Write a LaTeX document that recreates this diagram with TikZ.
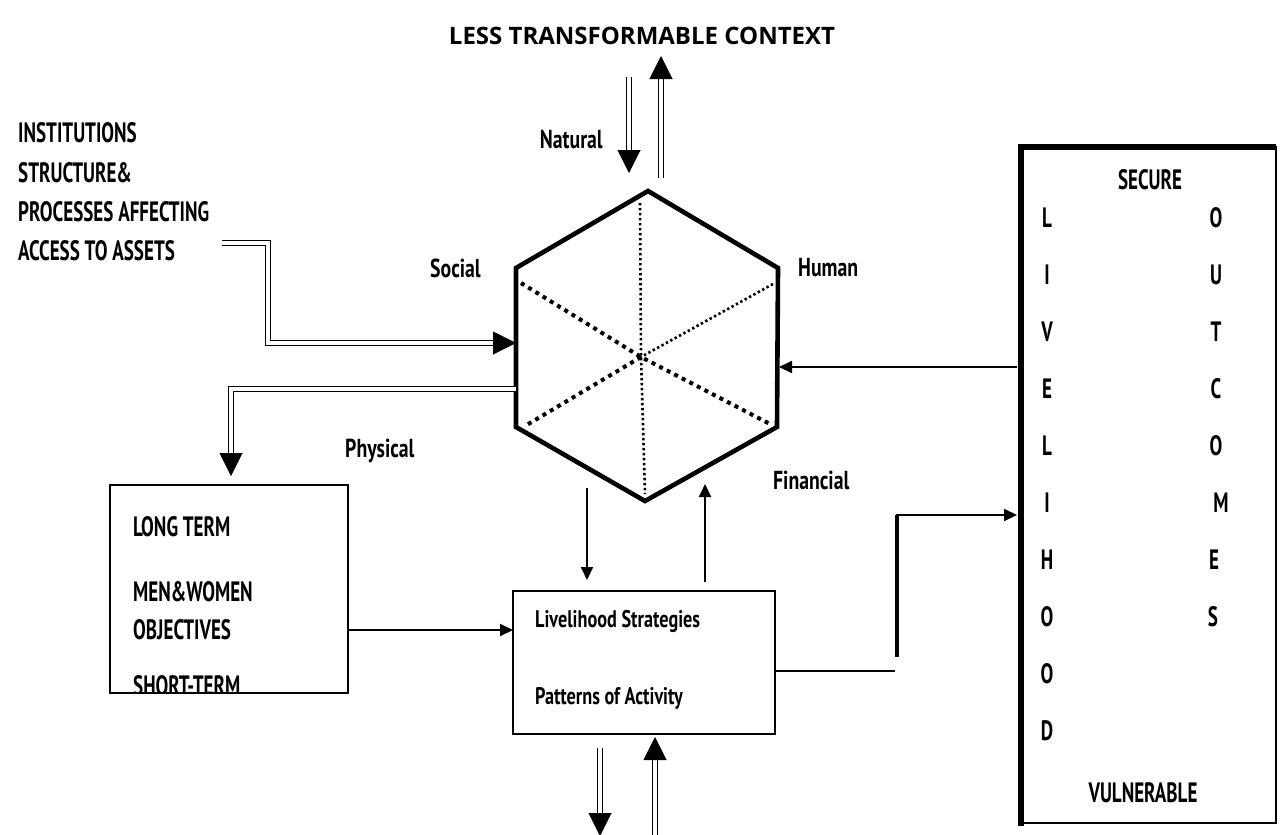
\documentclass[tikz,border=0pt]{standalone}
\usepackage{fontspec}
\usetikzlibrary{arrows.meta,calc}
\newfontfamily\titlefont{Open Sans}
\newfontfamily\condfont[FakeStretch=0.68]{PT Sans Bold}
\newfontfamily\condlower[FakeStretch=0.76]{PT Sans Bold}

\begin{document}
\begin{tikzpicture}[x=1pt,y=-1pt,
  lbl/.style={font=\condfont\fontsize{28}{30}\selectfont, inner sep=0pt},
  lblw/.style={lbl, anchor=west},
  small/.style={font=\condlower\fontsize{24}{26}\selectfont, inner sep=0pt},
  smallw/.style={small, anchor=west},
  asset/.style={font=\condlower\fontsize{26}{28}\selectfont, inner sep=0pt},
  assetw/.style={asset, anchor=west},
  letter/.style={lbl},
  hexline/.style={line width=4.6pt, line join=miter},
  dotthin/.style={line width=2.6pt, dash pattern=on 2.4pt off 2.6pt},
  dotthick/.style={line width=4pt, dash pattern=on 4pt off 4.5pt},
  thinbox/.style={draw, line width=1.6pt, inner sep=0pt},
  sarrow/.style={line width=2pt, -{Triangle[length=13pt,width=12pt]}},
  sline/.style={line width=2pt},
  dbl/.style={draw, double=white, double distance=3.4pt, line width=1.7pt, shorten >=20pt},
  dhead/.style={line width=1pt, -{Triangle[length=23pt,width=23pt]}}
]
\useasboundingbox (0,0) rectangle (1280,835);

% ---- title
\node[font=\titlefont\bfseries\fontsize{24}{27}\selectfont, inner sep=0pt] (title) at (642,36) {LESS TRANSFORMABLE CONTEXT};

% ---- institutions text
\node[lblw] (inst1) at (18,133) {INSTITUTIONS};
\node[lblw] (inst2) at (18,173) {STRUCTURE\&};
\node[lblw] (inst3) at (18,212) {PROCESSES AFFECTING};
\node[lblw] (inst4) at (18,251) {ACCESS TO ASSETS};

% ---- hexagon of assets
\coordinate (hT)  at (648,191);
\coordinate (hUR) at (778,268);
\coordinate (hLR) at (777,427);
\coordinate (hB)  at (645,501);
\coordinate (hLL) at (516,427);
\coordinate (hUL) at (516,268);
\coordinate (hC)  at (641,357);
\draw[dotthin]  (640,203) -- (hC) -- (645,494);
\draw[dotthin]  (773,284) -- (hC);
\draw[dotthick] (521,283) -- (hC) -- (770,424);
\draw[dotthick] (hC) -- (525,426);
\draw[hexline] (hT) -- (hUR) -- (hLR) -- (hB) -- (hLL) -- (hUL) -- cycle;

% ---- asset labels
\node[asset, anchor=east] (natural) at (603,140) {Natural};
\node[assetw] (social) at (430,268) {Social};
\node[assetw] (human) at (798,268) {Human};
\node[assetw] (physical) at (345,451) {Physical};
\node[assetw] (financial) at (773,480) {Financial};

% ---- natural double arrows
\coordinate (nd1) at (629,77);   \coordinate (nd2) at (629,173);
\coordinate (nu1) at (661,178);  \coordinate (nu2) at (661,56);
\draw[dbl] (nd1) -- (nd2);
\draw[dhead] ($(nd2)+(0,-22)$) -- (nd2);
\draw[dbl] (nu1) -- (nu2);
\draw[dhead] ($(nu2)+(0,22)$) -- (nu2);

% ---- institutions into hexagon
\coordinate (i1) at (222,243);
\coordinate (i2) at (268,243);
\coordinate (i3) at (268,343);
\coordinate (i4) at (516,343);
\draw[dbl] (i1) -- (i2) -- (i3) -- (i4);
\draw[dhead] ($(i4)+(-22,0)$) -- (i4);

% ---- hexagon to long/short term objectives
\coordinate (p1) at (516,389);
\coordinate (p2) at (231,389);
\coordinate (p3) at (231,476);
\draw[dbl] (p1) -- (p2) -- (p3);
\draw[dhead] ($(p3)+(0,-22)$) -- (p3);

% ---- objectives box
\node[thinbox, minimum width=238pt, minimum height=208pt] (obj) at (229,589) {};
\node[lblw] (lt) at (133,527) {LONG TERM};
\node[lblw] (mw) at (133,592) {MEN\&WOMEN};
\node[lblw] (ob) at (133,630) {OBJECTIVES};
\begin{scope}
  \clip (obj.south west) rectangle (obj.north east);
  \node[lblw] (st) at (133,686) {SHORT-TERM};
\end{scope}

% ---- strategies box
\node[draw, line width=2pt, inner sep=0pt, minimum width=262pt, minimum height=143pt] (strat) at (644,662.5) {};
\node[smallw] (ls) at (535,621) {Livelihood Strategies};
\node[smallw] (pa) at (535,698) {Patterns of Activity};

% ---- objectives to strategies
\coordinate (o1) at (348,630);
\coordinate (o2) at (513,630);
\draw[sarrow] (o1) -- (o2);

% ---- hexagon <-> strategies
\coordinate (hs1) at (587,488);  \coordinate (hs2) at (587,580);
\coordinate (sh1) at (705,582);  \coordinate (sh2) at (705,484);
\draw[sarrow] (hs1) -- (hs2);
\draw[sarrow] (sh1) -- (sh2);

% ---- strategies bottom double arrows
\coordinate (bd1) at (600,748);  \coordinate (bd2) at (600,836);
\coordinate (bu1) at (655,836);  \coordinate (bu2) at (655,737);
\draw[dbl] (bd1) -- (bd2);
\draw[dhead] ($(bd2)+(0,-22)$) -- (bd2);
\draw[dbl] (bu1) -- (bu2);
\draw[dhead] ($(bu2)+(0,22)$) -- (bu2);

% ---- livelihood outcomes box
\coordinate (rNW) at (1021,147);
\coordinate (rSE) at (1276,823);
\draw[line width=2.5pt] (rNW) rectangle (rSE);
\draw[line width=6.5pt] (1021,826) -- (rNW) -- (1276,147);
\node[lbl] (secure) at (1150,180) {SECURE};
\node[lbl] (vuln) at (1143,793) {VULNERABLE};
\foreach \ch [count=\i from 0] in {L,I,V,E,L,I,H,O,O,D}
  \node[letter] (liv\i) at (1047,218+57*\i) {\ch};
\foreach \ch/\xx [count=\i from 0] in {O/1216,U/1216,T/1216,C/1216,O/1216,M/1221,E/1214,S/1213}
  \node[letter] (out\i) at (\xx,218+57*\i) {\ch};

% ---- strategies to outcomes
\coordinate (so1) at (775,671);
\coordinate (so2) at (895,671);
\coordinate (so3) at (897,657);
\coordinate (so4) at (897,515);
\coordinate (so5) at (1017,515);
\draw[sline] (so1) -- (so2);
\draw[line width=3.2pt] (so3) -- (so4);
\draw[sarrow, line join=miter] ([yshift=1pt]so4) -- (so4) -- (so5);

% ---- outcomes back to hexagon
\coordinate (rh1) at (1017,367);
\coordinate (rh2) at (779,367);
\draw[sarrow] (rh1) -- (rh2);
\end{tikzpicture}
\end{document}
